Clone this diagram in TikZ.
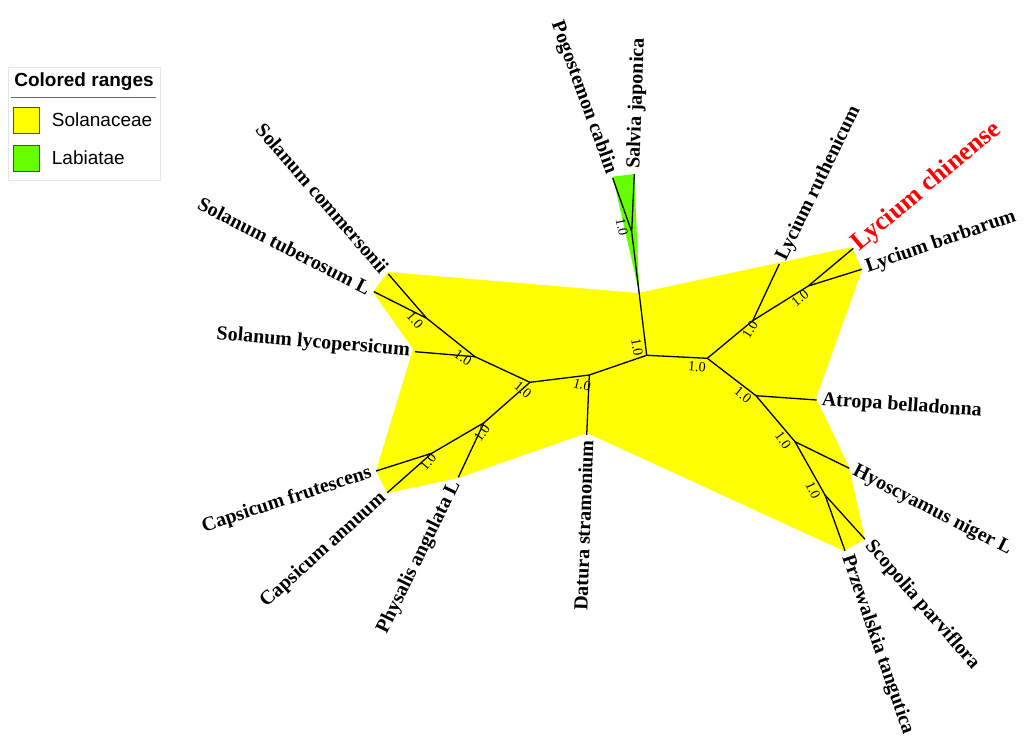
\documentclass[tikz,border=0pt]{standalone}
\usepackage{fontspec}
\setmainfont{Liberation Serif}
\newfontfamily\legendfont{Liberation Sans}
\usepackage{xcolor}
\usetikzlibrary{positioning}
\definecolor{solan}{RGB}{255,255,0}
\definecolor{labia}{RGB}{102,255,0}

\begin{document}
\begin{tikzpicture}[x=1pt,y=-1pt,leafR/.style={font=\bfseries\fontsize{20}{22}\selectfont,anchor=west,inner sep=5pt},leafL/.style={font=\bfseries\fontsize{20}{22}\selectfont,anchor=east,inner sep=5pt},support/.style={font=\fontsize{14}{15}\selectfont,inner sep=0pt},branch/.style={line width=1.3pt,black},swatch/.style={draw=black!70,line width=0.6pt,minimum size=26,inner sep=0pt,anchor=north west},legtext/.style={font=\legendfont\fontsize{19}{21}\selectfont,anchor=west,inner sep=0pt}]
\useasboundingbox (0,0) rectangle (1025,747);
% legend
\node[draw=black!10,fill=white,minimum width=152,minimum height=113,anchor=north west,inner sep=0pt] (legend) at (8,67) {};
\node[font=\legendfont\bfseries\fontsize{19}{21}\selectfont] (legtitle) at (84,82) {Colored ranges};
\draw[black!60,line width=1pt] (11,97.3) -- (156,97.3);
\node[swatch,fill=solan] (sw1) at (13.3,106.7) {};
\node[swatch,fill=labia] (sw2) at (13.3,145) {};
\node[legtext] (lt1) at (51.7,120) {Solanaceae};
\node[legtext] (lt2) at (51.7,158) {Labiatae};
% colored ranges
\fill[solan] (388,272) -- (638,293) -- (852,247) -- (862,270) -- (816,398) -- (849,467) -- (865,539) -- (844,551) -- (587,433) -- (458,478) -- (387,493) -- (376,471) -- (413,349) -- (373,292) -- cycle;
\fill[labia] (612.7,176.7) -- (634.3,174) -- (639.3,293.3) -- cycle;
% internal nodes
\coordinate (root) at (646.7,355.3);
\coordinate (g) at (631.7,231.7);
\coordinate (d) at (589.3,375);
\coordinate (c) at (530,382.3);
\coordinate (b) at (475,356.7);
\coordinate (a) at (426.7,318.3);
\coordinate (l) at (484,422.7);
\coordinate (m) at (431.7,453.3);
\coordinate (e) at (707.3,358.3);
\coordinate (f) at (752.7,320.7);
\coordinate (h) at (808.3,286);
\coordinate (i) at (756,395.7);
\coordinate (j) at (795,441.7);
\coordinate (k) at (825,495);
% tips
\coordinate (tcom) at (388.3,274);
\coordinate (ttub) at (374,291.7);
\coordinate (tlyc) at (415,351.7);
\coordinate (tfru) at (376,471);
\coordinate (tann) at (387.3,492.7);
\coordinate (tphy) at (458.3,477.3);
\coordinate (tdat) at (586.7,435);
\coordinate (tpog) at (612.7,178);
\coordinate (tsal) at (634.3,174);
\coordinate (tprz) at (845,550.7);
\coordinate (tsco) at (865,539.3);
\coordinate (thyo) at (849.3,468.3);
\coordinate (tatr) at (816.7,400);
\coordinate (tbar) at (861.7,269.3);
\coordinate (tchi) at (853.3,248.3);
\coordinate (truth) at (779.3,264);
% branches
\draw[branch] (root)--(g); \draw[branch] (g)--(tpog); \draw[branch] (g)--(tsal);
\draw[branch] (root)--(d); \draw[branch] (d)--(tdat); \draw[branch] (d)--(c);
\draw[branch] (c)--(b); \draw[branch] (b)--(tlyc); \draw[branch] (b)--(a);
\draw[branch] (a)--(tcom); \draw[branch] (a)--(ttub);
\draw[branch] (c)--(l); \draw[branch] (l)--(tphy); \draw[branch] (l)--(m);
\draw[branch] (m)--(tfru); \draw[branch] (m)--(tann);
\draw[branch] (root)--(e); \draw[branch] (e)--(f); \draw[branch] (f)--(truth);
\draw[branch] (f)--(h); \draw[branch] (h)--(tchi); \draw[branch] (h)--(tbar);
\draw[branch] (e)--(i); \draw[branch] (i)--(tatr); \draw[branch] (i)--(j);
\draw[branch] (j)--(thyo); \draw[branch] (j)--(k);
\draw[branch] (k)--(tprz); \draw[branch] (k)--(tsco);
% support values
\node[support,rotate=-49] (sa) at (415,320) {1.0};
\node[support,rotate=-34] (sb) at (463,358) {1.0};
\node[support,rotate=-40] (sc) at (523,390) {1.0};
\node[support,rotate=-15] (sd) at (582,385) {1.0};
\node[support,rotate=-80] (sr) at (637,347) {1.0};
\node[support,rotate=-78] (sg) at (622,227) {1.0};
\node[support,rotate=-5] (se) at (697,367) {1.0};
\node[support,rotate=58] (sf) at (750,330) {1.0};
\node[support,rotate=40] (sh) at (800,298) {1.0};
\node[support,rotate=-40] (si) at (743,395) {1.0};
\node[support,rotate=-55] (sj) at (783,440) {1.0};
\node[support,rotate=-65] (sk) at (813,490) {1.0};
\node[support,rotate=55] (sl) at (482,433) {1.0};
\node[support,rotate=50] (sm) at (428,462) {1.0};
% leaf labels
\node[leafL,rotate=-49] (ncom) at (tcom) {Solanum commersonii};
\node[leafL,rotate=-27] (ntub) at (ttub) {Solanum tuberosum L};
\node[leafL,rotate=-5] (nlyc) at (tlyc) {Solanum lycopersicum};
\node[leafL,rotate=18] (nfru) at (tfru) {Capsicum frutescens};
\node[leafL,rotate=42] (nann) at (tann) {Capsicum annuum};
\node[leafL,rotate=64] (nphy) at (tphy) {Physalis angulata L};
\node[leafL,rotate=88] (ndat) at (tdat) {Datura stramonium};
\node[leafL,rotate=-70] (npog) at (tpog) {Pogostemon cablin};
\node[leafR,rotate=88] (nsal) at (tsal) {Salvia japonica};
\node[leafR,rotate=-71] (nprz) at (tprz) {Przewalskia tangutica};
\node[leafR,rotate=-49] (nsco) at (tsco) {Scopolia parviflora};
\node[leafR,rotate=-27] (nhyo) at (thyo) {Hyoscyamus niger L};
\node[leafR,rotate=-4] (natr) at (tatr) {Atropa belladonna};
\node[leafR,rotate=19] (nbar) at (tbar) {Lycium barbarum};
\node[leafR,rotate=40,red,font=\bfseries\fontsize{26}{28}\selectfont,inner sep=3pt] (nchi) at (tchi) {Lycium chinense};
\node[leafR,rotate=64] (nruth) at (truth) {Lycium ruthenicum};
\end{tikzpicture}
\end{document}
